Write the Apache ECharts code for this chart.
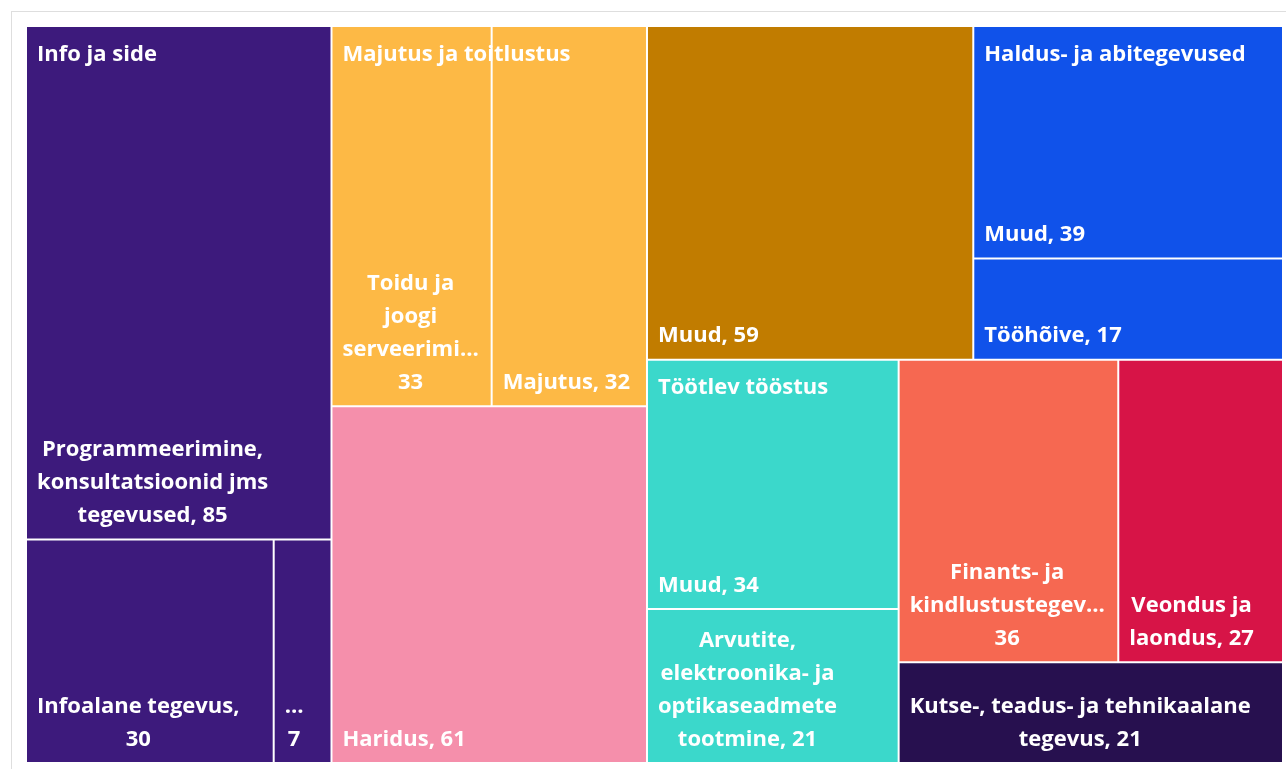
<!DOCTYPE html>
<html>
<head>
<meta charset="utf-8">
<script src="https://cdn.jsdelivr.net/npm/echarts@6/dist/echarts.min.js"></script>
<style>
  html, body { margin: 0; padding: 0; background: #fff; overflow: hidden; }
  #frame { position: absolute; left: 11px; top: 11px; width: 1290px; height: 780px; border-left: 1px solid #dedede; border-top: 1px solid #dedede; }
  #main { position: absolute; left: 0; top: 0; width: 1286px; height: 769px; }
</style>
</head>
<body>
<div id="frame"></div>
<div id="main"></div>
<script>
// sector groups and their sub-sectors
const infoNames = ['Programmeerimine, konsultatsioonid jms tegevused', 'Infoalane tegevus', '…'];
const infoValues = [85, 30, 7];
const majutusNames = ['Toidu ja joogi serveerimine', 'Majutus'];
const majutusValues = [33, 32];
const haldusNames = ['Muud', 'Tööhõive'];
const haldusValues = [39, 17];
const tootlevNames = ['Muud', 'Arvutite, elektroonika- ja optikaseadmete tootmine'];
const tootlevValues = [34, 21];
// sectors without breakdown
const singleNames = ['Haridus', 'Muud', 'Finants- ja kindlustustegevus', 'Veondus ja laondus', 'Kutse-, teadus- ja tehnikaalane tegevus'];
const singleValues = [61, 59, 36, 27, 21];

// label text as shown (wrapped / cut like the original)
const shownText = {
  'Programmeerimine, konsultatsioonid jms tegevused': 'Programmeerimine,\nkonsultatsioonid jms\ntegevused, 85',
  'Infoalane tegevus': 'Infoalane tegevus,\n30',
  '…': '…\n7',
  'Toidu ja joogi serveerimine': 'Toidu ja\njoogi\nserveerimi…\n33',
  'Arvutite, elektroonika- ja optikaseadmete tootmine': 'Arvutite,\nelektroonika- ja\noptikaseadmete\ntootmine, 21',
  'Finants- ja kindlustustegevus': 'Finants- ja\nkindlustustegev…\n36',
  'Veondus ja laondus': 'Veondus ja\nlaondus, 27',
  'Kutse-, teadus- ja tehnikaalane tegevus': 'Kutse-, teadus- ja tehnikaalane\ntegevus, 21'
};

const colors = {
  info: '#3d1a7c',
  majutus: '#fdb945',
  haridus: '#f58fab',
  muud: '#c17c00',
  haldus: '#1052ea',
  tootlev: '#3bd8cb',
  finants: '#f66851',
  veondus: '#d71447',
  kutse: '#27104f'
};

const FONT_SIZE = 22;
const FONT_FAMILY = 'Open Sans';
const PAD_X = 10;
const PAD_B = 6;
const CLEAR = 'rgba(0,0,0,0)';

const ctx = document.createElement('canvas').getContext('2d');
ctx.font = 'bold ' + FONT_SIZE + 'px "' + FONT_FAMILY + '"';
function blockWidth(text) {
  return Math.max.apply(null, text.split('\n').map(s => ctx.measureText(s).width));
}

function leaf(name, value, color) {
  const text = shownText[name] || (name + ', ' + value);
  return {
    name: name,
    value: value,
    itemStyle: { color: color, borderWidth: 1, borderColor: '#fff' },
    label: {
      formatter: text,
      position: [PAD_X + blockWidth(text) / 2, '100%'],
      align: 'center',
      verticalAlign: 'bottom',
      offset: [0, -PAD_B]
    }
  };
}

function group(name, names, values, color) {
  return {
    name: name,
    itemStyle: { color: color },
    children: names.map((n, i) => leaf(n, values[i], color))
  };
}

// series 1: all the cells
const infoG = group('Info ja side', infoNames, infoValues, colors.info);
const majutusG = group('Majutus ja toitlustus', majutusNames, majutusValues, colors.majutus);
const haldusG = group('Haldus- ja abitegevused', haldusNames, haldusValues, colors.haldus);
const tootlevG = group('Töötlev tööstus', tootlevNames, tootlevValues, colors.tootlev);
const singleColors = [colors.haridus, colors.muud, colors.finants, colors.veondus, colors.kutse];
const singles = singleNames.map((n, i) => leaf(n, singleValues[i], singleColors[i]));

// invisible helper groups only steer the squarified layout
function cells(info, maj, hal, too, s) {
  return [
    info,
    { name: ' ', children: [
      { name: ' ', children: [maj, s[0]] },
      { name: ' ', children: [s[1], hal, too,
        { name: ' ', children: [s[2], s[3], s[4]] }
      ] }
    ] }
  ];
}

// series 2: same layout, one transparent box per sector carrying the sector title
function titleBox(name, value, show) {
  return {
    name: name,
    value: value,
    itemStyle: { color: CLEAR, borderColor: CLEAR, borderWidth: 0 },
    label: show ? {
      show: true,
      formatter: name,
      position: [PAD_X + 1, 12],
      align: 'left',
      verticalAlign: 'top'
    } : { show: false }
  };
}
const sum = a => a.reduce((p, c) => p + c, 0);

const common = {
  type: 'treemap',
  left: 26,
  top: 26,
  width: 1257,
  height: 737,
  sort: false,
  squareRatio: 1.26,
  roam: false,
  nodeClick: false,
  drillDownIcon: '',
  breadcrumb: { show: false },
  animation: false,
  label: {
    show: true,
    color: '#fff',
    fontFamily: FONT_FAMILY,
    fontWeight: 'bold',
    fontSize: FONT_SIZE,
    lineHeight: 33,
    padding: 0,
    overflow: 'none'
  },
  upperLabel: { show: false },
  emphasis: { disabled: true }
};

const chart = echarts.init(document.getElementById('main'));
chart.setOption({
  backgroundColor: 'transparent',
  series: [
    Object.assign({}, common, {
      itemStyle: { borderWidth: 0, gapWidth: 0, borderColor: '#fff' },
      data: cells(infoG, majutusG, haldusG, tootlevG, singles)
    }),
    Object.assign({}, common, {
      z: 10,
      silent: true,
      itemStyle: { color: CLEAR, borderWidth: 0, gapWidth: 0, borderColor: CLEAR },
      data: cells(
        titleBox('Info ja side', sum(infoValues), true),
        titleBox('Majutus ja toitlustus', sum(majutusValues), true),
        titleBox('Haldus- ja abitegevused', sum(haldusValues), true),
        titleBox('Töötlev tööstus', sum(tootlevValues), true),
        singleNames.map((n, i) => titleBox(n, singleValues[i], false))
      )
    })
  ]
});
</script>
</body>
</html>
